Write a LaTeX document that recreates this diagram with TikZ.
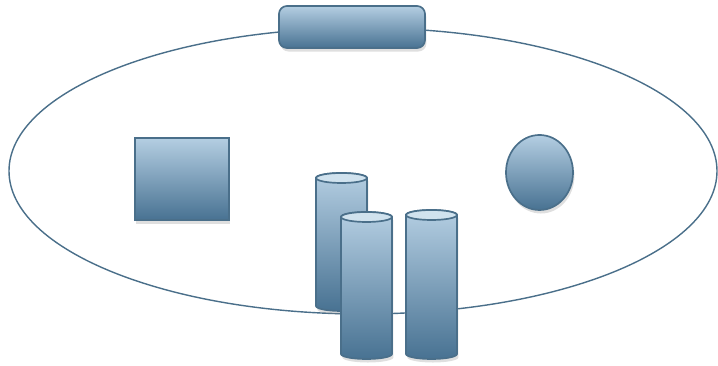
\documentclass[tikz,border=0pt]{standalone}
\usepackage{tikz}
\usetikzlibrary{shapes.geometric,shadows}

\definecolor{edgeblue}{RGB}{74,111,138}
\definecolor{lightblue}{RGB}{180,206,226}
\definecolor{darkblue}{RGB}{72,114,146}
\definecolor{capblue}{RGB}{208,226,238}

\begin{document}
\begin{tikzpicture}[x=0.025cm, y=0.025cm,
    blueshade/.style={draw=edgeblue, line width=1.2pt, top color=lightblue, bottom color=darkblue,
        drop shadow={opacity=0.25, shadow xshift=1pt, shadow yshift=-2.5pt}},
    capfill/.style={draw=edgeblue, line width=1.2pt, fill=capblue}]
    \useasboundingbox (0,0) rectangle (718,366);

    % Outer ellipse
    \draw[edgeblue, line width=1pt] (363,195) ellipse [x radius=354, y radius=143];

    % Boxes
    \node[blueshade, rounded corners=0.2cm, minimum width=3.65cm, minimum height=1.05cm, inner sep=0pt] (bar) at (352,339) {};
    \node[blueshade, minimum width=2.35cm, minimum height=2.05cm, inner sep=0pt] (block) at (182,187) {};
    \node[blueshade, ellipse, minimum width=1.675cm, minimum height=1.875cm, inner sep=0pt] (ball) at (539.5,193.5) {};

    % Cylinders (back one first)
    \def\cylrad{25.5}
    \def\capry{5}
    \foreach \cx/\ytop/\ybot in {341.5/188/60, 366.5/149/12, 431.5/151/12} {
        \draw[blueshade] (\cx-\cylrad,\ytop) -- (\cx-\cylrad,\ybot)
            arc[start angle=180, end angle=360, x radius=\cylrad, y radius=\capry]
            -- (\cx+\cylrad,\ytop)
            arc[start angle=0, end angle=180, x radius=\cylrad, y radius=\capry] -- cycle;
        \draw[capfill] (\cx,\ytop) ellipse [x radius=\cylrad, y radius=\capry];
    }
\end{tikzpicture}
\end{document}
